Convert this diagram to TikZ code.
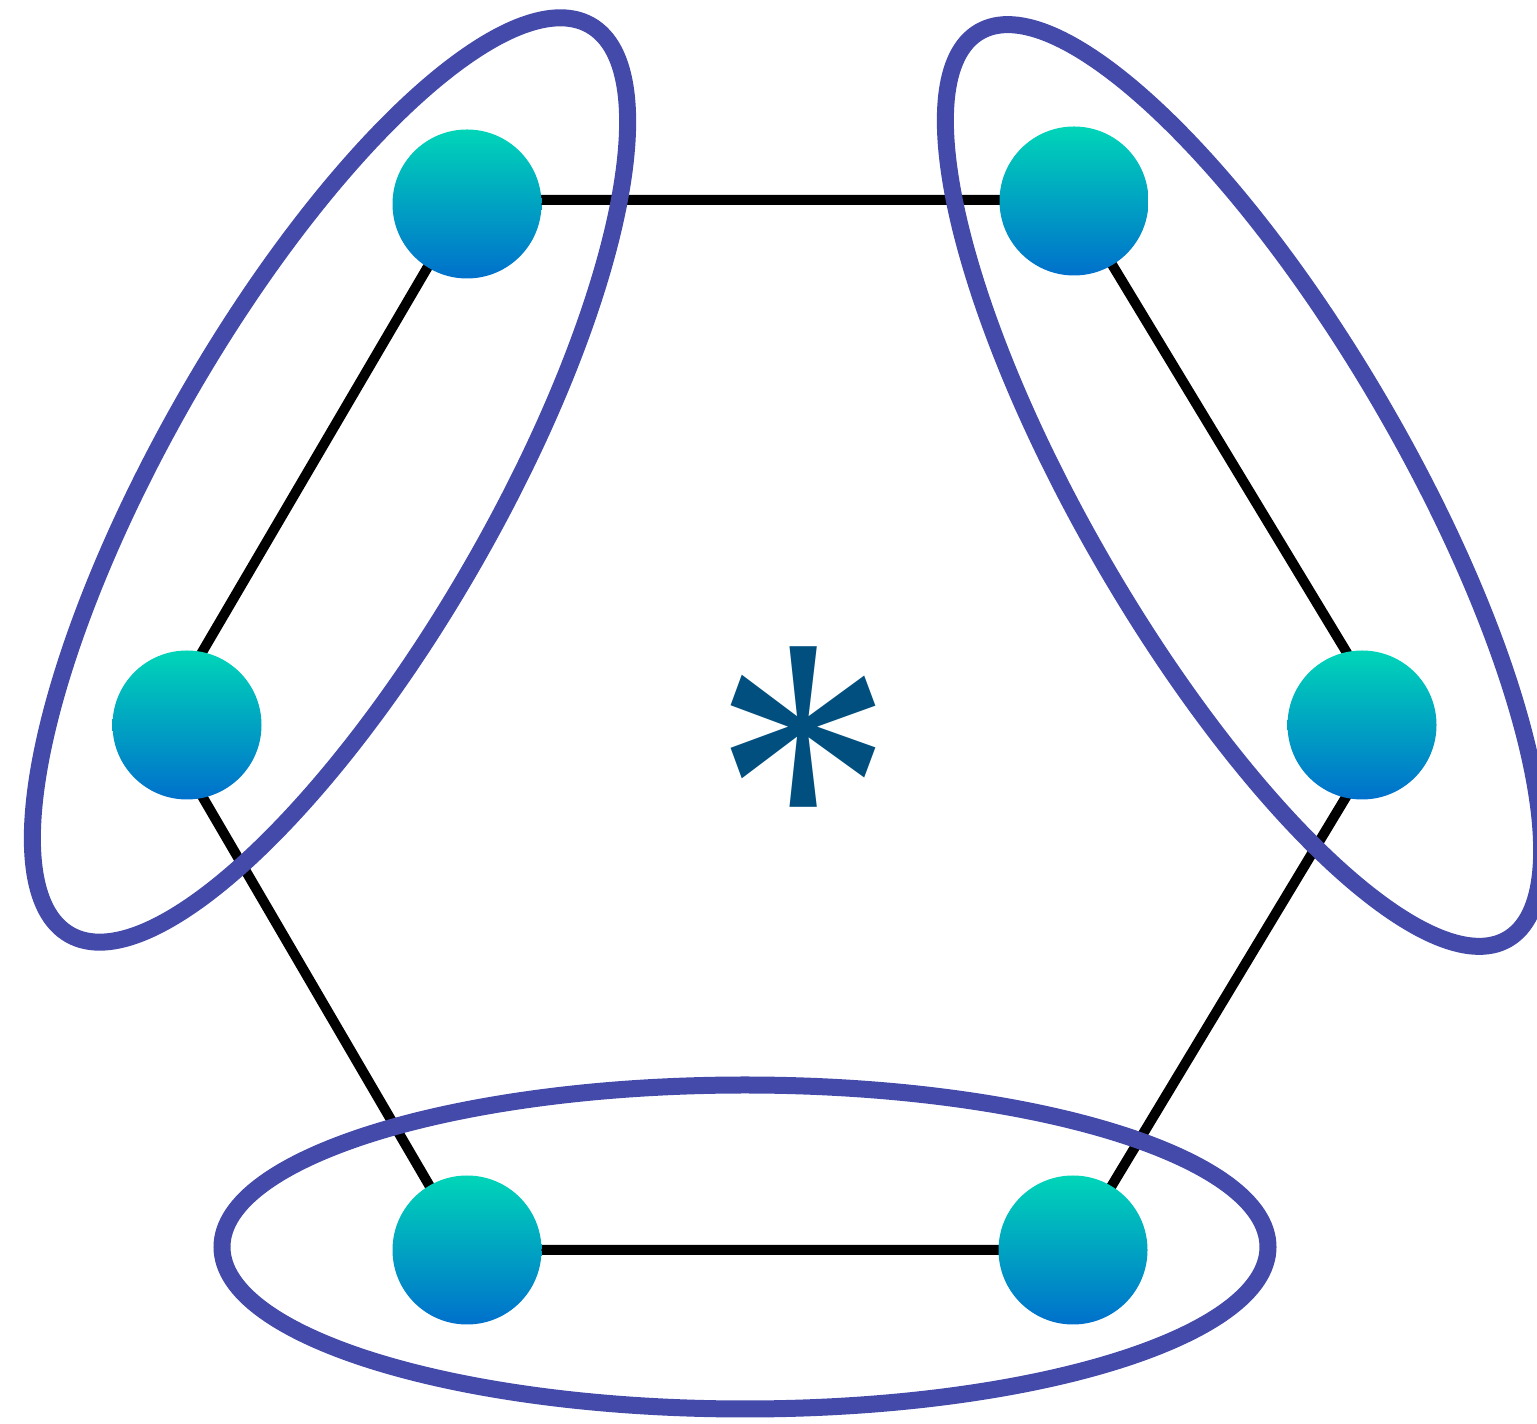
\documentclass[tikz,border=0pt]{standalone}
\usepackage{fontspec}
\newfontfamily\starfont{Liberation Serif}
\definecolor{nodetop}{RGB}{0,213,184}
\definecolor{nodebot}{RGB}{0,112,204}
\definecolor{ringblue}{RGB}{68,74,170}
\definecolor{starblue}{RGB}{0,79,127}
\tikzset{
  vertex/.style={circle, minimum size=149pt, inner sep=0pt, top color=nodetop, bottom color=nodebot, draw=none},
  edge/.style={line width=10pt, black},
  ring/.style={line width=17pt, ringblue},
}
\begin{document}
\begin{tikzpicture}[x=1pt,y=1pt]
\useasboundingbox (0,0) rectangle (1537,1424);
% hexagon corners
\coordinate (hTL) at (467,1224);
\coordinate (hTR) at (1073,1224);
\coordinate (hR) at (1390,700);
\coordinate (hBR) at (1073,174);
\coordinate (hBL) at (467,174);
\coordinate (hL) at (160,700);
\draw[edge] (hTL) -- (hTR) -- (hR) -- (hBR) -- (hBL) -- (hL) -- cycle;
% vertices
\node[vertex] (TL) at (467,1220) {};
\node[vertex] (TR) at (1074,1223) {};
\node[vertex] (L) at (187,699) {};
\node[vertex] (R) at (1362,699) {};
\node[vertex] (BL) at (467,174) {};
\node[vertex] (BR) at (1073,174) {};
% asterisk
\node[anchor=north, inner sep=0pt, xscale=0.82, transform shape, text=starblue, font=\starfont\fontsize{438}{438}\selectfont] (star) at (803.5,777) {*};
% groups
\draw[ring, rotate around={60.2:(330,944)}] (330,944) ellipse [x radius=524, y radius=166];
\draw[ring, rotate around={-59.8:(1243.5,938.5)}] (1243.5,938.5) ellipse [x radius=525, y radius=160];
\draw[ring] (745,177) ellipse [x radius=523, y radius=162];
\end{tikzpicture}
\end{document}
